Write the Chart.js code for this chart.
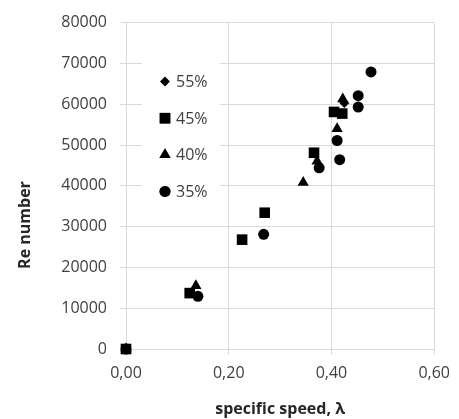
<!DOCTYPE html>
<html>
<head>
<meta charset="utf-8">
<script src="https://cdn.jsdelivr.net/npm/chart.js@4"></script>
<style>
  html, body { margin: 0; padding: 0; background: #ffffff; }
  #wrap { width: 459px; height: 419px; }
</style>
</head>
<body>
<div id="wrap"><canvas id="chart"></canvas></div>
<script>
// values (specific speed lambda vs Re number)
var lambda55 = [0.00, 0.425];
var re55 = [0, 60300];

var lambda45 = [0.00, 0.124, 0.226, 0.270, 0.366, 0.405, 0.421];
var re45 = [0, 13700, 26800, 33400, 48100, 58100, 57700];

var lambda40 = [0.00, 0.136, 0.345, 0.372, 0.411, 0.422];
var re40 = [0, 15500, 40800, 46000, 54000, 61300];

var lambda35 = [0.00, 0.140, 0.268, 0.376, 0.411, 0.416, 0.452, 0.452, 0.477];
var re35 = [0, 12900, 28100, 44400, 51100, 46400, 59300, 62100, 67900];

var seriesLabels = ['55%', '45%', '40%', '35%'];
var xTicks = [0, 0.2, 0.4, 0.6];
var yTicks = [0, 10000, 20000, 30000, 40000, 50000, 60000, 70000, 80000];
var xTitle = 'specific speed, λ';
var yTitle = 'Re number';

var FONT = "'Open Sans', sans-serif";

function toPoints(xs, ys) {
    var pts = [];
    for (var i = 0; i < xs.length; i++) {
        pts.push({x: xs[i], y: ys[i]});
    }
    return pts;
}

function makeSet(label, xs, ys, style, radius) {
    return {
        label: label,
        data: toPoints(xs, ys),
        pointStyle: style,
        pointRadius: radius,
        pointHoverRadius: radius,
        backgroundColor: '#000000',
        borderColor: '#000000',
        borderWidth: 0,
        showLine: false,
        clip: false   // the 0,0 point sits on the corner of the plot
    };
}

// legend sits inside the plot area, drawn on a white box over the grid
var insideLegend = {
    id: 'insideLegend',
    afterDraw: function (chart) {
        var ctx = chart.ctx;
        var area = chart.chartArea;
        var left = area.left + 16;
        var top = area.top + 39;
        ctx.save();
        ctx.fillStyle = '#ffffff';
        ctx.fillRect(left, top, 78, 146);
        ctx.font = '16px ' + FONT;
        ctx.textBaseline = 'middle';
        ctx.textAlign = 'left';
        chart.data.datasets.forEach(function (ds, i) {
            var cy = top + 20 + i * 36.6;
            Chart.helpers.drawPoint(ctx, {
                pointStyle: ds.pointStyle,
                radius: ds.pointRadius,
                borderWidth: 0,
                rotation: 0
            }, left + 23, cy);
            ctx.fillStyle = '#000000';
            ctx.fill();
            ctx.fillStyle = '#404040';
            ctx.fillText(ds.label, left + 34, cy + 1);
        });
        ctx.restore();
    }
};

// y title is placed a bit lower than the plot centre, like in the picture
var yTitlePlugin = {
    id: 'yTitlePlugin',
    afterDraw: function (chart) {
        var ctx = chart.ctx;
        ctx.save();
        ctx.translate(25, 225);
        ctx.rotate(-Math.PI / 2);
        ctx.font = 'bold 16px ' + FONT;
        ctx.fillStyle = '#262626';
        ctx.textAlign = 'center';
        ctx.textBaseline = 'middle';
        ctx.fillText(yTitle, 0, 0);
        ctx.restore();
    }
};

var ctx = document.getElementById('chart');
var chart = new Chart(ctx, {
    type: 'scatter',
    data: {
        datasets: [
            makeSet(seriesLabels[0], lambda55, re55, 'rectRot', 5),
            makeSet(seriesLabels[1], lambda45, re45, 'rect', 7.5),
            makeSet(seriesLabels[2], lambda40, re40, 'triangle', 6.5),
            makeSet(seriesLabels[3], lambda35, re35, 'circle', 5.5)
        ]
    },
    options: {
        responsive: true,
        maintainAspectRatio: false,
        animation: false,
        layout: { padding: { left: 0, right: 23, top: 17, bottom: 0 } },
        plugins: {
            legend: { display: false },
            tooltip: { enabled: false }
        },
        scales: {
            x: {
                type: 'linear',
                min: 0,
                max: 0.6,
                afterBuildTicks: function (scale) {
                    scale.ticks = xTicks.map(function (v) { return {value: v}; });
                },
                afterFit: function (scale) { scale.height = 70; },
                border: { display: false },
                grid: { color: '#d9d9d9', lineWidth: 1, tickLength: 6 },
                ticks: {
                    color: '#404040',
                    padding: 9,
                    font: { family: FONT, size: 16 },
                    callback: function (v) { return v.toFixed(2).replace('.', ','); }
                },
                title: {
                    display: true,
                    text: xTitle,
                    color: '#262626',
                    font: { family: FONT, size: 16, weight: 'bold' },
                    padding: { top: 4, bottom: 0 }
                }
            },
            y: {
                type: 'linear',
                min: 0,
                max: 80000,
                afterBuildTicks: function (scale) {
                    scale.ticks = yTicks.map(function (v) { return {value: v}; });
                },
                afterFit: function (scale) { scale.width = 126; },
                border: { display: false },
                grid: { color: '#d9d9d9', lineWidth: 1, tickLength: 6 },
                ticks: {
                    color: '#404040',
                    padding: 13,
                    font: { family: FONT, size: 16 },
                    callback: function (v) { return String(v); }
                },
                title: { display: false }
            }
        }
    },
    plugins: [insideLegend, yTitlePlugin]
});
</script>
</body>
</html>
